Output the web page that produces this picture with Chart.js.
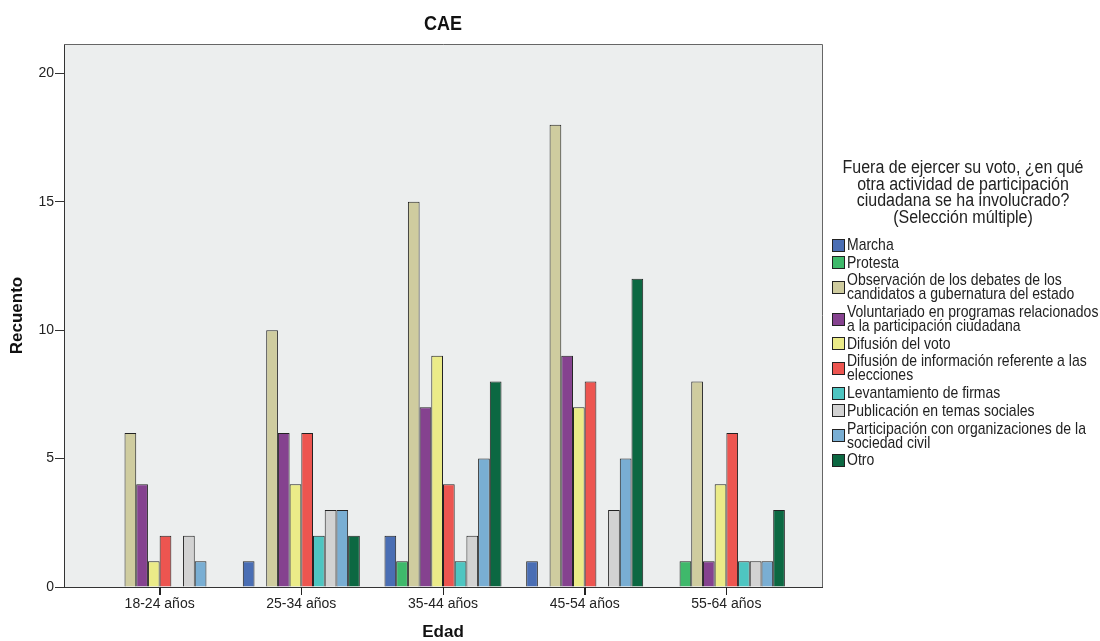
<!DOCTYPE html>
<html>
<head>
<meta charset="utf-8">
<script src="https://cdn.jsdelivr.net/npm/chart.js@4.4.0/dist/chart.umd.min.js"></script>
<style>
  html, body { margin: 0; padding: 0; background: #fff; }
</style>
</head>
<body>
<canvas id="chart" width="1100" height="641"></canvas>
<script>
// categories (x axis)
const categories = ['18-24 años', '25-34 años', '35-44 años', '45-54 años', '55-64 años'];

// counts per series, one value per age group
const marcha        = [0, 1, 2, 1, 0];
const protesta      = [0, 0, 1, 0, 1];
const observacion   = [6, 10, 15, 18, 8];
const voluntariado  = [4, 6, 7, 9, 1];
const difusionVoto  = [1, 4, 9, 7, 4];
const difusionInfo  = [2, 6, 4, 8, 6];
const levantamiento = [0, 2, 1, 0, 1];
const publicacion   = [2, 3, 2, 3, 1];
const participacion = [1, 3, 5, 5, 1];
const otro          = [0, 2, 8, 12, 3];

const yTicks = [0, 5, 10, 15, 20];

const seriesNames = [
  'Marcha',
  'Protesta',
  'Observación de los debates de los candidatos a gubernatura del estado',
  'Voluntariado en programas relacionados a la participación ciudadana',
  'Difusión del voto',
  'Difusión de información referente a las elecciones',
  'Levantamiento de firmas',
  'Publicación en temas sociales',
  'Participación con organizaciones de la sociedad civil',
  'Otro'
];

// legend lines as wrapped in the original
const legendLines = [
  ['Marcha'],
  ['Protesta'],
  ['Observación de los debates de los', 'candidatos a gubernatura del estado'],
  ['Voluntariado en programas relacionados', 'a la participación ciudadana'],
  ['Difusión del voto'],
  ['Difusión de información referente a las', 'elecciones'],
  ['Levantamiento de firmas'],
  ['Publicación en temas sociales'],
  ['Participación con organizaciones de la', 'sociedad civil'],
  ['Otro']
];

const legendTitle = [
  'Fuera de ejercer su voto, ¿en qué',
  'otra actividad de participación',
  'ciudadana se ha involucrado?',
  '(Selección múltiple)'
];

const colors = [
  '#4a6eb4', '#3fb96b', '#cfcc9f', '#85428f', '#ebeb88',
  '#ed5550', '#4ec5c1', '#d2d2d2', '#79aed3', '#0c6842'
];

const seriesValues = [
  marcha, protesta, observacion, voluntariado, difusionVoto,
  difusionInfo, levantamiento, publicacion, participacion, otro
];

Chart.defaults.font.family = "'Liberation Sans', Arial, sans-serif";
Chart.defaults.color = '#222';

const datasets = seriesValues.map((vals, s) => ({
  label: seriesNames[s],
  data: vals.map((v, i) => ({ x: i, y: v === 0 ? null : v })),
  backgroundColor: colors[s],
  borderColor: '#222',
  borderWidth: 1,
  categoryPercentage: 0.826,
  barPercentage: 1
}));

// stretched text like the SPSS export
function drawText(ctx, text, x, y, stretch) {
  ctx.save();
  ctx.translate(x, y);
  ctx.scale(1, stretch);
  ctx.fillText(text, 0, 0);
  ctx.restore();
}

const decor = {
  id: 'decor',
  beforeDraw(chart) {
    const { ctx, chartArea: a } = chart;
    ctx.save();
    ctx.fillStyle = '#eceeee';
    ctx.fillRect(a.left, a.top, a.right - a.left, a.bottom - a.top);
    ctx.restore();
  },
  afterDraw(chart) {
    const { ctx, chartArea: a } = chart;
    const xs = chart.scales.x;
    ctx.save();
    // top and right frame
    ctx.strokeStyle = '#666';
    ctx.lineWidth = 1;
    ctx.beginPath();
    ctx.moveTo(a.left, a.top + 0.5);
    ctx.lineTo(a.right + 0.5, a.top + 0.5);
    ctx.lineTo(a.right + 0.5, a.bottom);
    ctx.stroke();

    // category tick marks
    ctx.strokeStyle = '#222';
    ctx.beginPath();
    categories.forEach((c, i) => {
      const px = Math.round(xs.getPixelForValue(i)) + 0.5;
      ctx.moveTo(px, a.bottom);
      ctx.lineTo(px, a.bottom + 8);
    });
    ctx.stroke();

    ctx.fillStyle = '#111';
    ctx.textAlign = 'center';
    ctx.textBaseline = 'middle';
    ctx.font = "bold 18px 'Liberation Sans', Arial, sans-serif";
    drawText(ctx, 'CAE', (a.left + a.right) / 2, 24.5, 1.15);

    // legend title
    ctx.fillStyle = '#222';
    ctx.font = "16px 'Liberation Sans', Arial, sans-serif";
    legendTitle.forEach((t, i) => drawText(ctx, t, 963, 168 + i * 16.7, 1.15));

    // legend items
    ctx.textAlign = 'left';
    ctx.font = "14px 'Liberation Sans', Arial, sans-serif";
    let y = 245.5;
    legendLines.forEach((lines, s) => {
      const mid = y + (lines.length - 1) * 14 / 2;
      ctx.fillStyle = colors[s];
      ctx.fillRect(832, Math.round(mid - 7) , 12, 12);
      ctx.strokeStyle = '#222';
      ctx.strokeRect(832.5, Math.round(mid - 7) + 0.5, 12, 12);
      ctx.fillStyle = '#222';
      lines.forEach((t, k) => drawText(ctx, t, 847, y + k * 14, 1.15));
      y += (lines.length - 1) * 14 + 17.7;
    });
    ctx.restore();
  }
};

new Chart(document.getElementById('chart'), {
  type: 'bar',
  data: { datasets },
  options: {
    responsive: false,
    animation: false,
    devicePixelRatio: 1,
    layout: { padding: { top: 44, right: 278, left: 0, bottom: 0 } },
    plugins: {
      legend: { display: false },
      title: { display: false },
      tooltip: { enabled: false }
    },
    scales: {
      x: {
        type: 'linear',
        min: -0.675,
        max: 4.675,
        offset: false,
        afterBuildTicks: (scale) => { scale.ticks = categories.map((c, i) => ({ value: i })); },
        afterFit: (scale) => { scale.height = 54; },
        grid: { offset: false, drawOnChartArea: false, tickLength: 8, color: '#222' },
        border: { color: '#333', width: 1 },
        ticks: {
          autoSkip: false,
          maxRotation: 0,
          padding: 1,
          font: { size: 14 },
          callback: (v) => categories[v]
        },
        title: {
          display: true,
          text: 'Edad',
          font: { size: 17, weight: 'bold' },
          color: '#111',
          padding: { top: 0, bottom: -2 }
        }
      },
      y: {
        min: 0,
        max: 21.14,
        afterBuildTicks: (scale) => { scale.ticks = yTicks.map((v) => ({ value: v })); },
        afterFit: (scale) => { scale.width = 64; },
        grid: { drawOnChartArea: false, tickLength: 9, color: '#333' },
        border: { color: '#333', width: 1 },
        ticks: { padding: 1, font: { size: 14 } },
        title: {
          display: true,
          text: 'Recuento',
          font: { size: 17, weight: 'bold' },
          color: '#111',
          padding: { top: 7, bottom: 0 }
        }
      }
    }
  },
  plugins: [decor]
});
</script>
</body>
</html>
